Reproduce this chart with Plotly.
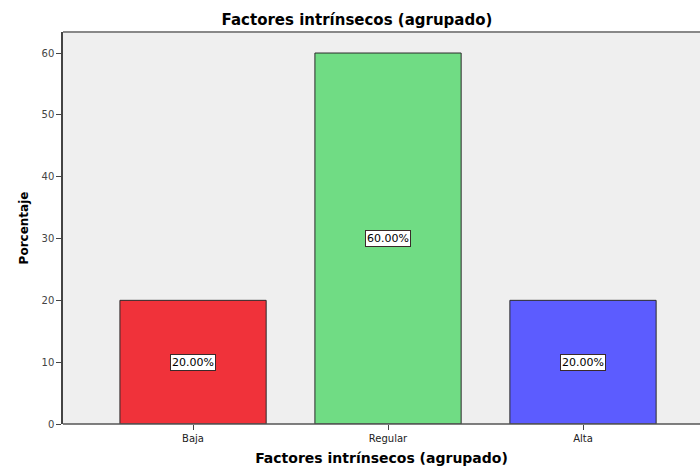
import plotly.graph_objects as go

categories = ['Baja', 'Regular', 'Alta']
porcentajes = [20, 60, 20]
etiquetas = ['20.00%', '60.00%', '20.00%']
colores = ['#F0323A', '#70DC84', '#5C5CFF']

fig = go.Figure()
fig.add_trace(go.Bar(x=categories, y=porcentajes, width=0.75,
                     marker=dict(color=colores, line=dict(color='#2b2b2b', width=1))))

for cat, val, txt in zip(categories, porcentajes, etiquetas):
    fig.add_annotation(x=cat, y=val / 2, text=txt, showarrow=False,
                       font=dict(family='DejaVu Sans', size=11, color='black'),
                       bgcolor='white', bordercolor='#3a2a2a', borderwidth=1, borderpad=1)

fig.add_shape(type='line', xref='x domain', yref='y domain', x0=0, x1=1, y0=1, y1=1,
              line=dict(color='#888888', width=2))

fig.update_layout(
    width=700, height=469,
    margin=dict(l=63, r=0, t=32, b=45),
    paper_bgcolor='white', plot_bgcolor='#EFEFEF',
    showlegend=False,
    title=dict(text='Factores intrínsecos (agrupado)', x=357 / 700, xanchor='center',
               y=1 - 20 / 469, yanchor='middle',
               font=dict(family='DejaVu Sans', size=15, color='black', weight='bold')),
    xaxis=dict(range=[-0.667, 2.6], showgrid=False, zeroline=False,
               showline=False, ticks='outside', ticklen=5, tickcolor='#444444',
               tickfont=dict(family='DejaVu Sans', size=10, color='#222222'),
               title=dict(text='Factores intrínsecos (agrupado)', standoff=10,
                          font=dict(family='DejaVu Sans', size=14, color='black', weight='bold'))),
    yaxis=dict(range=[0, 63.4], tickvals=[0, 10, 20, 30, 40, 50, 60], showgrid=False,
               zeroline=False, showline=True, linecolor='#444444', linewidth=1.5,
               ticks='outside', ticklen=5, tickcolor='#444444',
               tickfont=dict(family='DejaVu Sans', size=10, color='#444444'),
               title=dict(text='Porcentaje', standoff=10,
                          font=dict(family='DejaVu Sans', size=12, color='black', weight='bold'))),
)

fig.add_shape(type='line', xref='x domain', yref='y domain', x0=0, x1=1, y0=0, y1=0,
              line=dict(color='#555555', width=1.5))

fig.write_html('out.html', config={'displayModeBar': False},
               post_script="document.body.style.margin='0';document.body.style.overflow='hidden';")
